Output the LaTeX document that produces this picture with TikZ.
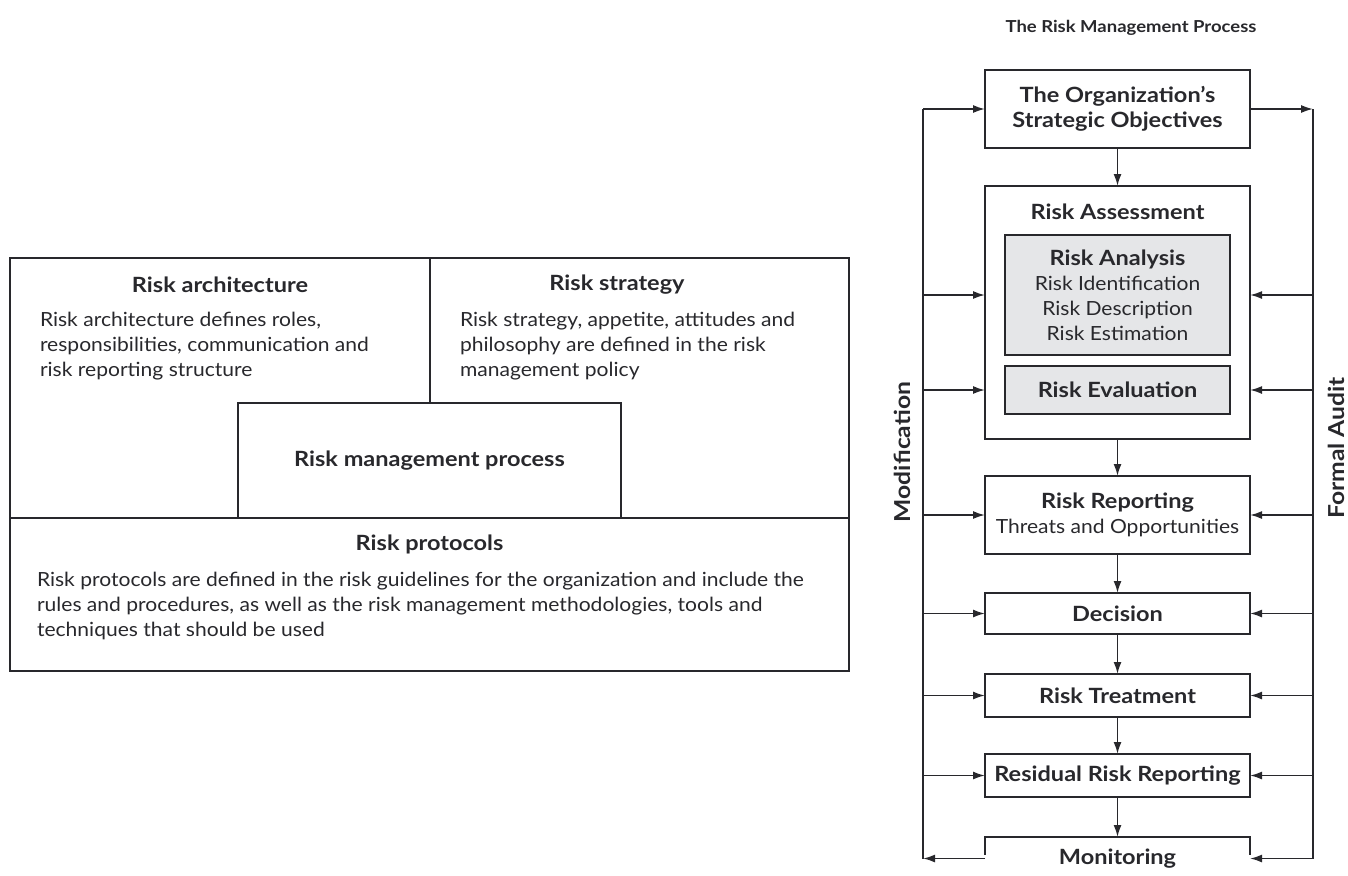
\documentclass[tikz,border=0pt]{standalone}
\usepackage{fontspec}
\setmainfont{Lato}[FakeStretch=1.08]
\newfontfamily\wideb{Lato Bold}[FakeStretch=1.12,Ligatures=TeX]
\usetikzlibrary{arrows.meta,calc}
\definecolor{ink}{RGB}{40,40,44}
\definecolor{boxgray}{RGB}{229,230,232}
\begin{document}
\begin{tikzpicture}[x=1pt,y=-1pt,
  every node/.style={inner sep=0pt,outer sep=0pt,text=ink},
  frame/.style={draw=ink,line width=1.7pt},
  procbox/.style={draw=ink,line width=1.7pt,minimum width=265pt},
  inbox/.style={draw=ink,line width=1.7pt,fill=boxgray,minimum width=225pt},
  lbl/.style={font=\fontsize{21}{25}\wideb,align=center},
  body/.style={font=\fontsize{19.5}{25}\selectfont,align=left,anchor=west},
  side/.style={font=\fontsize{22}{25}\wideb,rotate=90},
  flow/.style={draw=ink,line width=1.7pt},
  arr/.style={flow,-{Latex[length=12pt,width=8pt]}}]
\useasboundingbox (0,0) rectangle (1348,875);
% ---------------- left diagram ----------------
\node[frame,minimum width=839pt,minimum height=413pt] (outer) at (429.5,464.5) {};
\node[frame,minimum width=839pt,minimum height=153pt] (prot) at (429.5,594.5) {};
\node[frame,minimum width=383pt,minimum height=115pt] (rmp) at (429.5,460.5) {};
\coordinate (divtop) at (430,258);
\draw[frame] (divtop) -- (divtop |- rmp.north);
\node[lbl] (archT) at (220,285) {Risk architecture};
\node[body] (archB) at (40,346) {Risk architecture defines roles,\\responsibilities, communication and\\risk reporting structure};
\node[lbl] (stratT) at (617,285) {Risk strategy};
\node[body] (stratB) at (460,346) {Risk strategy, appetite, attitudes and\\philosophy are defined in the risk\\management policy};
\node[lbl] (rmpT) at (rmp) {Risk management process};
\node[lbl] (protT) at (429.5,544) {Risk protocols};
\node[body] (protB) at (37,606) {Risk protocols are defined in the risk guidelines for the organization and include the\\rules and procedures, as well as the risk management methodologies, tools and\\techniques that should be used};
% ---------------- right diagram ----------------
\node[font=\fontsize{16.5}{20}\wideb] (title) at (1131,28) {The Risk Management Process};
\node[procbox,minimum height=78pt,lbl] (obj) at (1117.5,109) {The Organization’s\\Strategic Objectives};
\node[procbox,minimum height=253pt] (ra) at (1117.5,312.5) {};
\node[lbl] (raT) at (1117.5,212) {Risk Assessment};
\node[inbox,minimum height=120pt,align=center,font=\fontsize{19.5}{25}\selectfont] (ran) at (1117.5,295) {{\fontsize{21}{25}\wideb Risk Analysis}\\Risk Identification\\Risk Description\\Risk Estimation};
\node[inbox,minimum height=48pt,lbl] (rev) at (1117.5,390) {Risk Evaluation};
\node[procbox,minimum height=78pt,align=center,font=\fontsize{19.5}{25}\selectfont] (rr) at (1117.5,515) {{\fontsize{21}{25}\wideb Risk Reporting}\\Threats and Opportunities};
\node[procbox,minimum height=41pt,lbl] (dec) at (1117.5,613.5) {Decision};
\node[procbox,minimum height=43pt,lbl] (rt) at (1117.5,695.5) {Risk Treatment};
\node[procbox,minimum height=43pt,lbl] (rrr) at (1117.5,775.5) {Residual Risk Reporting};
\node[minimum width=265pt,minimum height=43pt,lbl] (mon) at (1117.5,858.5) {Monitoring};
\draw[flow] ([yshift=25pt]mon.south west) -- (mon.north west) -- (mon.north east) -- ([yshift=25pt]mon.south east);
% main flow
\draw[arr] (obj) -- (ra);
\draw[arr] (ra) -- (rr);
\draw[arr] (rr) -- (dec);
\draw[arr] (dec) -- (rt);
\draw[arr] (rt) -- (rrr);
\draw[arr] (rrr) -- (mon);
% feedback lines
\coordinate (Ltop) at (923,0 |- obj.west);
\coordinate (Lbot) at (923,0 |- mon.west);
\coordinate (Rtop) at (1313,0 |- obj.east);
\coordinate (Rbot) at (1313,0 |- mon.east);
\draw[flow] (Ltop) -- (Lbot);
\draw[flow] (Rtop) -- (Rbot);
\draw[arr] (Ltop) -- (obj.west);
\draw[arr] (obj.east) -- (Rtop);
\draw[arr] (mon.west) -- (Lbot);
\foreach \n/\t in {ran/ra, rev/ra, rr/rr, dec/dec, rt/rt, rrr/rrr}{
  \draw[arr] (Ltop |- \n.west) -- (\n.west -| \t.west);
  \draw[arr] (Rtop |- \n.east) -- (\n.east -| \t.east);
}
\draw[arr] (Rbot) -- (mon.east);
\node[side] (modT) at (902,452) {Modification};
\node[side] (audT) at (1336,448) {Formal Audit};
\end{tikzpicture}
\end{document}
